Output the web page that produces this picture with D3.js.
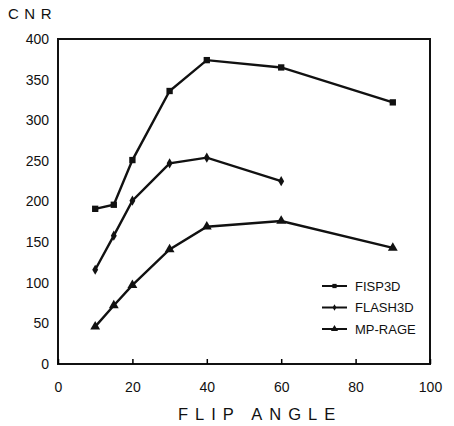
<!DOCTYPE html>
<html>
<head>
<meta charset="utf-8">
<script src="https://cdn.jsdelivr.net/npm/d3@7"></script>
<style>
  body { margin: 0; background: #fff; }
  text { font-family: "Liberation Sans", Arial, sans-serif; fill: #111; }
</style>
</head>
<body>
<svg id="chart"></svg>
<script>
// flip angles and CNR values
const flipAngles = [10, 15, 20, 30, 40, 60, 90];
const fisp3d = [191, 196, 251, 336, 374, 365, 322];
const flash3d = [116, 158, 201, 247, 254, 225];
const mpRage = [46, 72, 97, 141, 169, 176, 143];
const xTicks = [0, 20, 40, 60, 80, 100];
const yTicks = [0, 50, 100, 150, 200, 250, 300, 350, 400];

const series = [
  { name: 'FISP3D', values: fisp3d, symbol: d3.symbolSquare, size: 40, legendSize: 18 },
  { name: 'FLASH3D', values: flash3d, symbol: d3.symbolDiamond, size: 30, legendSize: 12 },
  { name: 'MP-RAGE', values: mpRage, symbol: d3.symbolTriangle, size: 42, legendSize: 22 }
];

const width = 454, height = 426;
const margin = { top: 39, right: 24, bottom: 62, left: 58 };

const svg = d3.select('#chart')
  .attr('width', width)
  .attr('height', height);

const x = d3.scaleLinear().domain([0, 100]).range([margin.left, width - margin.right]);
const y = d3.scaleLinear().domain([0, 400]).range([height - margin.bottom, margin.top]);

// frame
svg.append('rect')
  .attr('x', x(0)).attr('y', y(400))
  .attr('width', x(100) - x(0)).attr('height', y(0) - y(400))
  .attr('fill', 'none').attr('stroke', '#111').attr('stroke-width', 2);

// axes, ticks point inward
const xAxis = svg.append('g')
  .attr('transform', `translate(0,${y(0)})`)
  .call(d3.axisBottom(x).tickValues(xTicks).tickSize(-5).tickPadding(18));
xAxis.select('.domain').remove();
xAxis.selectAll('text').attr('font-size', 14);
xAxis.selectAll('line').attr('stroke-width', 1.5);

const yAxis = svg.append('g')
  .attr('transform', `translate(${x(0)},0)`)
  .call(d3.axisLeft(y).tickValues(yTicks).tickSize(0).tickPadding(9));
yAxis.select('.domain').remove();
yAxis.selectAll('text').attr('font-size', 14);

const line = d3.line()
  .x((d, i) => x(flipAngles[i]))
  .y(d => y(d));

series.forEach(s => {
  svg.append('path')
    .datum(s.values)
    .attr('fill', 'none')
    .attr('stroke', '#111')
    .attr('stroke-width', 2.4)
    .attr('d', line);

  svg.append('g').selectAll('path')
    .data(s.values)
    .join('path')
    .attr('transform', (d, i) => `translate(${x(flipAngles[i])},${y(d)})`)
    .attr('d', d3.symbol().type(s.symbol).size(s.size))
    .attr('fill', '#111');
});

// legend
const legend = svg.append('g').attr('transform', 'translate(322,286)');
series.forEach((s, i) => {
  const g = legend.append('g').attr('transform', `translate(0,${i * 21.5})`);
  g.append('line')
    .attr('x1', 0).attr('x2', 25)
    .attr('stroke', '#111').attr('stroke-width', 2);
  g.append('path')
    .attr('transform', 'translate(12.5,0)')
    .attr('d', d3.symbol().type(s.symbol).size(s.legendSize))
    .attr('fill', '#111');
  g.append('text')
    .attr('x', 33).attr('dy', '0.36em')
    .attr('font-size', 13)
    .text(s.name);
});

// axis titles
svg.append('text')
  .attr('x', 8).attr('y', 19)
  .attr('font-size', 15)
  .attr('letter-spacing', 5.5)
  .text('CNR');

svg.append('text')
  .attr('x', 178).attr('y', 420)
  .attr('font-size', 16.5)
  .attr('letter-spacing', 7)
  .text('FLIP ANGLE');
</script>
</body>
</html>
